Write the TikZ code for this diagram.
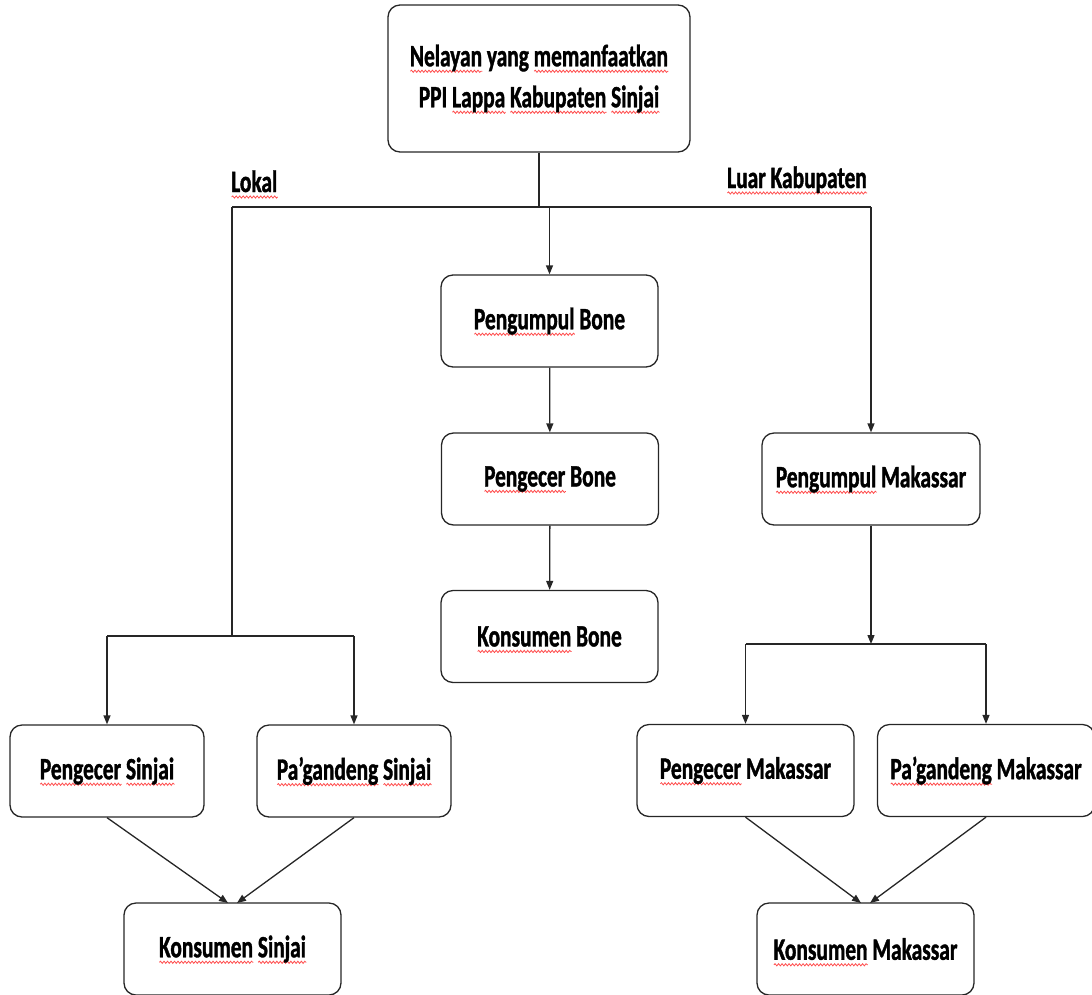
\documentclass[tikz,border=0pt]{standalone}
\usepackage{fontspec}
\usepackage{xcolor}
\usetikzlibrary{arrows.meta,decorations.pathmorphing}
\newfontfamily\lab{Carlito}[FakeStretch=0.69,FakeBold=1.2]
\newlength\sqw
\newsavebox\sqbox
\newcommand\sq[1]{\sbox\sqbox{#1}\setlength\sqw{\wd\sqbox}\leavevmode\rlap{\smash{\tikz[x=1pt,y=1pt,baseline=5pt,sharp corners]\draw[red!70,line width=0.8pt,decorate,decoration={snake,amplitude=1.1pt,segment length=3.5pt}] (0,0) -- (\sqw,0);}}\usebox\sqbox}
\tikzset{
  box/.style={draw=black!85, line width=1.3pt, rounded corners=12pt, align=center,
    minimum width=217pt, minimum height=92pt, inner sep=0pt,
    font=\lab\bfseries\fontsize{31}{41}\selectfont},
  lbl/.style={inner sep=0pt, font=\lab\bfseries\fontsize{31}{41}\selectfont},
  ln/.style={draw=black!85, line width=1.3pt},
  arr/.style={ln, -{Triangle[length=9pt,width=7pt]}}
}
\begin{document}
\begin{tikzpicture}[x=1pt,y=-1pt]
\useasboundingbox (0,0) rectangle (1092,994);
% nodes
\node[box, minimum width=302pt, minimum height=147pt] (top) at (539,78.5)
  {\sq{Nelayan} yang \sq{memanfaatkan}\\PPI \sq{Lappa} \sq{Kabupaten} \sq{Sinjai}};
\node[box] (pb) at (549.5,321) {\sq{Pengumpul} Bone};
\node[box] (peb) at (550,479) {\sq{Pengecer} Bone};
\node[box] (kb) at (549.5,636.5) {\sq{Konsumen} Bone};
\node[box, minimum width=218pt] (pm) at (871,479) {\sq{Pengumpul} Makassar};
\node[box, minimum width=194pt] (ps) at (107,771) {\sq{Pengecer} \sq{Sinjai}};
\node[box, minimum width=194pt] (pas) at (354,771) {\sq{Pa’gandeng} \sq{Sinjai}};
\node[box] (ks) at (232.5,949) {\sq{Konsumen} \sq{Sinjai}};
\node[box] (pem) at (745.5,770.5) {\sq{Pengecer} Makassar};
\node[box] (pam) at (986,770.5) {\sq{Pa’gandeng} Makassar};
\node[box] (km) at (865.5,949) {\sq{Konsumen} Makassar};
% labels
\node[lbl, anchor=base west] (lokal) at (231,192) {\sq{Lokal}};
\node[lbl, anchor=base east] (luar) at (867,188) {\sq{Luar Kabupaten}};
% junction coordinates
\coordinate (j0) at (539,207);
\coordinate (jl) at (232,207);
\coordinate (jr) at (871,207);
\coordinate (jb) at (549.5,207);
\coordinate (jl2) at (232,636);
\coordinate (jl2a) at (107,636);
\coordinate (jl2b) at (354,636);
\coordinate (jr2) at (871,644);
\coordinate (jr2a) at (745.5,644);
\coordinate (jr2b) at (986,644);
\coordinate (ksl) at (228,903);
\coordinate (ksr) at (237,903);
\coordinate (kml) at (861,903);
\coordinate (kmr) at (870,903);
% connectors
\draw[ln] (top.south) -- (j0);
\draw[ln] (jl) -- (jr);
\draw[arr] (jb) -- (pb.north);
\draw[arr] (pb) -- (peb);
\draw[arr] (peb) -- (kb);
\draw[arr] (jr) -- (pm.north);
\draw[ln] (jl) -- (jl2);
\draw[ln] (jl2a) -- (jl2b);
\draw[arr] (jl2a) -- (ps.north);
\draw[arr] (jl2b) -- (pas.north);
\draw[arr] (pm.south) -- (jr2);
\draw[ln] (jr2a) -- (jr2b);
\draw[arr] (jr2a) -- (pem.north);
\draw[arr] (jr2b) -- (pam.north);
\draw[arr] (ps.south) -- (ksl);
\draw[arr] (pas.south) -- (ksr);
\draw[arr] (pem.south) -- (kml);
\draw[arr] (pam.south) -- (kmr);
\end{tikzpicture}
\end{document}
